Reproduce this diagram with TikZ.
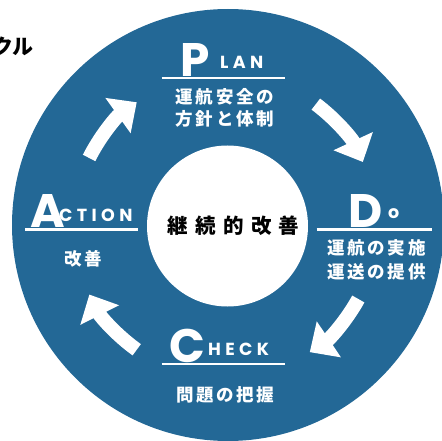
\documentclass[tikz,border=0pt]{standalone}
\usepackage{fontspec}
\setmainfont{Noto Sans CJK JP}
\newfontfamily\jp{Noto Sans CJK JP}
\newfontfamily\lat{Poppins}
\usetikzlibrary{arrows.meta}
\definecolor{pdcablue}{RGB}{35,104,150}
\tikzset{
  bigl/.style={text=white, inner sep=0pt, text depth=0pt, anchor=base west, font=\lat\bfseries\fontsize{47}{47}\selectfont},
  smalll/.style={text=white, inner sep=0pt, text depth=0pt, anchor=base west, font=\lat\bfseries\fontsize{17.5}{17.5}\selectfont\addfontfeature{LetterSpace=25}},
  jlab/.style={text=white, inner sep=0pt, text height=13pt, text depth=1pt, anchor=base, font=\jp\bfseries\fontsize{17.5}{17.5}\selectfont\addfontfeature{LetterSpace=15}},
  rulel/.style={white, line width=2.3pt},
  cyc/.style={white, line width=14pt, -{Triangle[width=42pt,length=23pt]}},
}
\begin{document}
\begin{tikzpicture}[x=1pt,y=-1pt]
\useasboundingbox (0,0) rectangle (442,441);
\clip (0,0) rectangle (442,441);
% title fragment
\node[inner sep=0pt, anchor=base west, font=\jp\bfseries\fontsize{21}{21}\selectfont] (title) at (-8,55) {クル};
% discs
\coordinate (c) at (228,225);
\fill[pdcablue] (c) circle (216pt);
\fill[white] (227.5,226) circle (80.5pt);
\node[inner sep=0pt, anchor=base, font=\jp\bfseries\fontsize{20.5}{20.5}\selectfont\addfontfeature{LetterSpace=36}] (core) at (233.5,233.8) {継続的改善};
% cycle arrows
\coordinate (ac) at (225,226);
\draw[cyc] ([shift={(53.3:152pt)}]ac) arc[start angle=53.3, end angle=24.9, radius=152pt];
\draw[cyc] ([shift={(-28.7:152pt)}]ac) arc[start angle=-28.7, end angle=-56.1, radius=152pt];
\draw[cyc] ([shift={(234.5:152pt)}]ac) arc[start angle=234.5, end angle=206.8, radius=152pt];
\draw[cyc] ([shift={(153.4:152pt)}]ac) arc[start angle=153.4, end angle=125.5, radius=152pt];
% PLAN
\node[bigl] (P) at (180,77) {P};
\node[smalll] (LAN) at (220,68.3) {LAN};
\coordinate (pl1) at (161.7,78); \coordinate (pl2) at (285,78);
\draw[rulel] (pl1) -- (pl2);
\node[jlab] (plan1) at (224.8,103.3) {運航安全の};
\node[jlab] (plan2) at (224.8,125.5) {方針と体制};
% DO
\node[bigl] (D) at (348,227) {D};
\node[smalll] (o) at (388,218.3) {o};
\coordinate (dl1) at (316.7,229.5); \coordinate (dl2) at (431.7,229.5);
\draw[rulel] (dl1) -- (dl2);
\node[jlab] (do1) at (376.5,254.2) {運航の実施};
\node[jlab] (do2) at (376.5,278.3) {運送の提供};
% ACTION
\node[bigl] (A) at (30,227) {A};
\node[smalll] (CTION) at (59,221.7) {CTION};
\coordinate (al1) at (25,229.5); \coordinate (al2) at (138.3,229.5);
\draw[rulel] (al1) -- (al2);
\node[jlab] (act1) at (83.2,265.7) {改善};
% CHECK
\node[bigl] (C) at (169,362) {C};
\node[smalll] (HECK) at (208,355) {HECK};
\coordinate (cl1) at (161.7,364); \coordinate (cl2) at (285,364);
\draw[rulel] (cl1) -- (cl2);
\node[jlab] (chk1) at (225.2,401.7) {問題の把握};
\end{tikzpicture}
\end{document}
